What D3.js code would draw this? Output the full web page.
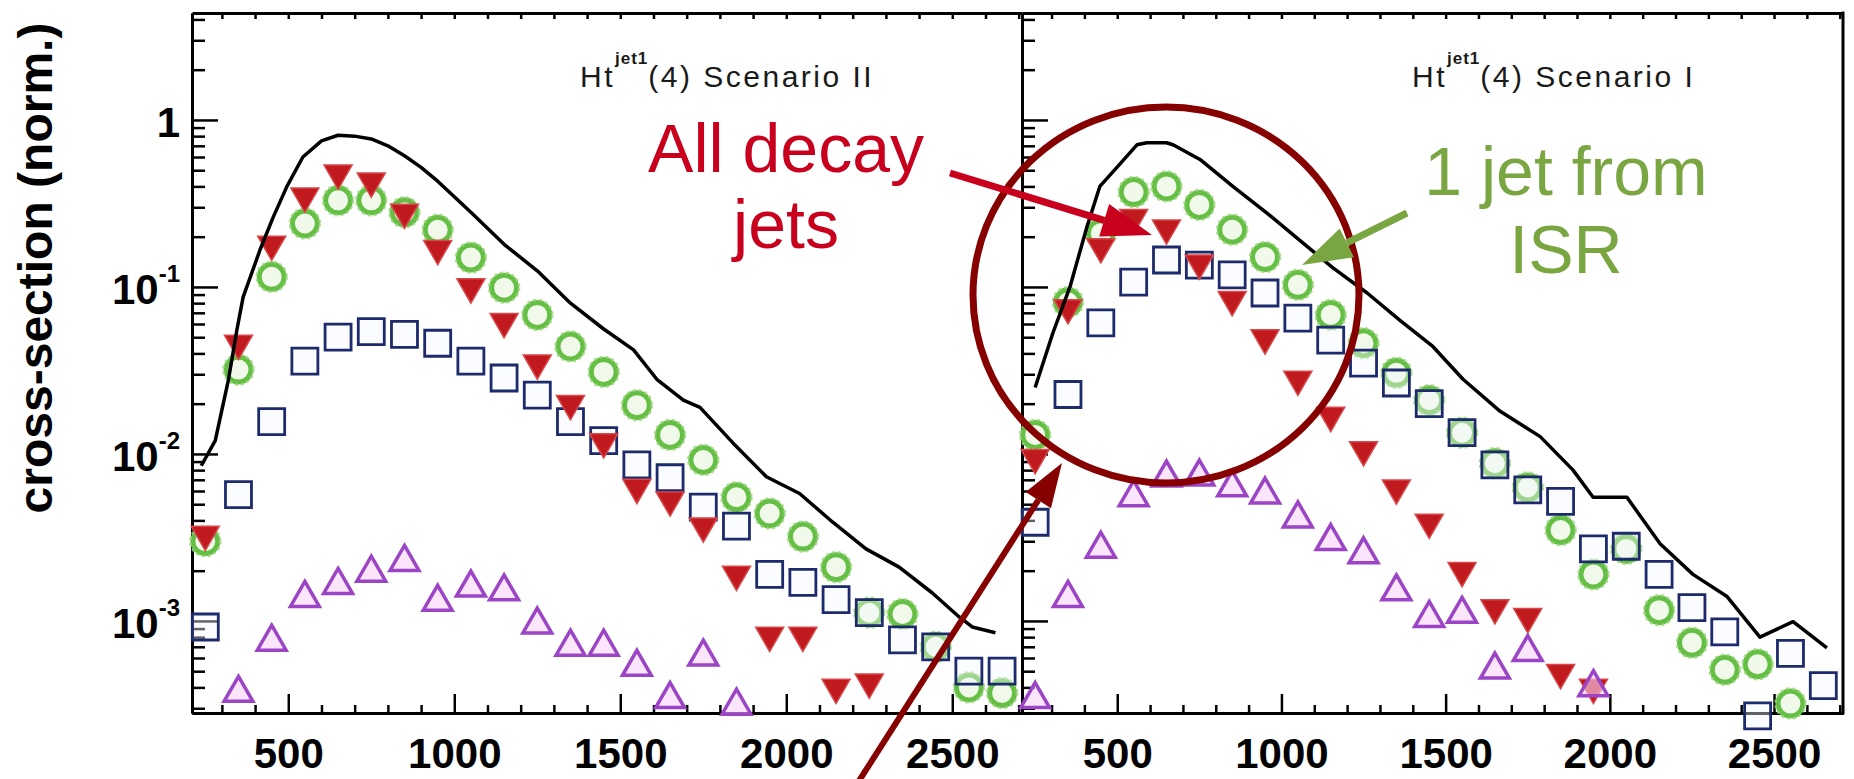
<!DOCTYPE html>
<html>
<head>
<meta charset="utf-8">
<script src="https://cdn.jsdelivr.net/npm/d3@7"></script>
<style>
body { margin: 0; background: #fff; }
svg { display: block; }
.axis path { stroke: #000; stroke-width: 3; }
.axis line { stroke: #000; stroke-width: 2.5; }
.axis text, .lbl { font-family: "Liberation Sans", Arial, Helvetica, sans-serif; font-weight: bold; font-size: 42px; fill: #000; }
.note { font-family: "Liberation Sans", Arial, Helvetica, sans-serif; font-size: 68px; }
.title { font-family: "Liberation Sans", Arial, Helvetica, sans-serif; font-size: 30px; letter-spacing: 2.5px; fill: #1a1a1a; }
</style>
</head>
<body>
<script>
// bin centres (Ht, GeV)
var bins = [250, 350, 450, 550, 650, 750, 850, 950, 1050, 1150, 1250, 1350, 1450,
            1550, 1650, 1750, 1850, 1950, 2050, 2150, 2250, 2350, 2450, 2550, 2650];

// Scenario II (left panel)
var decayII = [0.0033, 0.046, 0.18, 0.35, 0.48, 0.43, 0.28, 0.17, 0.10, 0.062, 0.035, 0.020, 0.0118,
               0.0063, 0.0053, 0.0037, 0.0019, 0.00082, 0.00082, 0.00040, 0.00043, null, null, null, null];
var isr1II = [0.0030, 0.032, 0.115, 0.24, 0.33, 0.33, 0.28, 0.22, 0.15, 0.099, 0.068, 0.044, 0.031,
              0.0196, 0.013, 0.0092, 0.0055, 0.0044, 0.0032, 0.0021, 0.00112, 0.0011, 0.0007, 0.0004, 0.00037];
var isr2II = [0.00092, 0.0057, 0.0156, 0.036, 0.050, 0.054, 0.052, 0.046, 0.036, 0.0285, 0.0225, 0.0156, 0.012,
              0.0086, 0.0072, 0.0048, 0.0037, 0.0019, 0.0017, 0.00134, 0.00112, 0.00077, 0.0007, 0.0005, 0.0005];
var isr3II = [null, 0.00037, 0.00075, 0.00137, 0.00164, 0.00194, 0.00225, 0.0013, 0.00158, 0.0015, 0.00095, 0.0007, 0.0007,
              0.00053, 0.00034, 0.00061, 0.00031, null, null, null, null, null, null, null, null];
var totalXII = [238, 280, 320, 345, 364, 415, 454, 496, 544, 600, 650, 700, 750, 800, 850, 900, 950, 1050,
                1150, 1250, 1350, 1450, 1540, 1610, 1690, 1740, 1840, 1940, 2040, 2140, 2240, 2340, 2440, 2520, 2560, 2630];
var totalII = [0.0085, 0.012, 0.028, 0.055, 0.087, 0.167, 0.26, 0.40, 0.60, 0.75, 0.81, 0.80, 0.77, 0.70, 0.61, 0.52, 0.43, 0.28,
               0.18, 0.125, 0.08, 0.056, 0.042, 0.028, 0.021, 0.019, 0.0116, 0.0073, 0.0058, 0.0039, 0.0027, 0.0021, 0.00147, 0.00106, 0.00092, 0.00085];

// Scenario I (right panel)
var decayI = [0.0095, 0.075, 0.174, 0.26, 0.225, 0.139, 0.084, 0.0495, 0.028, 0.017, 0.0106, 0.00625, 0.0039,
              0.0020, 0.0012, 0.00106, 0.00049, 0.00040, null, null, null, null, null, null, null];
var isr1I = [0.013, 0.081, 0.21, 0.37, 0.40, 0.31, 0.22, 0.151, 0.103, 0.068, 0.046, 0.0306, 0.021,
             0.0134, 0.0088, 0.0063, 0.0035, 0.0019, 0.0027, 0.00116, 0.00074, 0.00051, 0.00055, 0.00032, null];
var isr2I = [0.0039, 0.0227, 0.061, 0.107, 0.145, 0.135, 0.118, 0.092, 0.065, 0.048, 0.035, 0.0266, 0.020,
             0.0134, 0.0086, 0.0061, 0.0052, 0.0027, 0.0028, 0.0019, 0.0012, 0.00086, 0.00027, 0.00064, 0.00041];
var isr3I = [0.00034, 0.00137, 0.0027, 0.0055, 0.0072, 0.0073, 0.0063, 0.0057, 0.0041, 0.0030, 0.0025, 0.0015, 0.00104,
             0.0011, 0.00051, 0.00065, null, 0.00040, null, null, null, null, null, null, null];
var totalXI = [250, 304, 356, 408, 447, 499, 560, 590, 650, 670, 752, 852, 956, 1056, 1157, 1261, 1361, 1461,
               1553, 1666, 1788, 1888, 1949, 2052, 2153, 2253, 2357, 2457, 2558, 2661];
var totalI = [0.025, 0.053, 0.10, 0.23, 0.40, 0.52, 0.71, 0.73, 0.73, 0.71, 0.58, 0.40, 0.277, 0.19, 0.13, 0.092, 0.063, 0.044,
              0.028, 0.018, 0.0127, 0.0080, 0.0055, 0.0055, 0.0029, 0.0019, 0.0014, 0.0008, 0.00099, 0.00069];

var xTicks = [500, 1000, 1500, 2000, 2500];
var yTicks = [1, 0.1, 0.01, 0.001];

var width = 1854,
    height = 779,
    plotTop = 13,
    plotBottom = 713;

var red = "#c8001e", green = "#7aa642", darkRed = "#870000";

var svg = d3.select("body").append("svg")
    .attr("width", width)
    .attr("height", height);

var y = d3.scaleLog()
    .domain([2.81e-4, 4.37])
    .range([plotBottom, plotTop]);

// minor tick positions
var xMinor = d3.range(300, 2701, 100).filter(function(d) { return d % 500 !== 0; });
var xAll = d3.range(300, 2701, 100);
var yMinor = [];
[-4, -3, -2, -1, 0].forEach(function(e) {
    for (var k = 2; k <= 9; k++) {
        var v = k * Math.pow(10, e);
        if (v > y.domain()[0] && v < y.domain()[1]) yMinor.push(v);
    }
});

var panels = [
    {x0: 192, x1: 1022, decay: decayII, isr1: isr1II, isr2: isr2II, isr3: isr3II,
     totX: totalXII, tot: totalII, title: "Scenario II", titleX: 580},
    {x0: 1022, x1: 1843, decay: decayI, isr1: isr1I, isr2: isr2I, isr3: isr3I,
     totX: totalXI, tot: totalI, title: "Scenario I", titleX: 1412}
];

function points(arr) {
    return bins.map(function(b, i) { return {x: b, v: arr[i]}; })
        .filter(function(d) { return d.v != null; });
}

panels.forEach(function(p) {
    var x = d3.scaleLinear().domain([210, 2710]).range([p.x0, p.x1]);
    var g = svg.append("g");

    // axes: ticks point inwards
    g.append("g").attr("class", "axis").attr("transform", "translate(0," + plotBottom + ")")
        .call(d3.axisBottom(x).tickValues(xMinor).tickSize(-8).tickSizeOuter(0).tickFormat(""));
    g.append("g").attr("class", "axis").attr("transform", "translate(0," + plotBottom + ")")
        .call(d3.axisBottom(x).tickValues(xTicks).tickSize(-19).tickSizeOuter(0).tickPadding(25).tickFormat(d3.format("d")));
    g.append("g").attr("class", "axis").attr("transform", "translate(0," + plotTop + ")")
        .call(d3.axisTop(x).tickValues(xAll).tickSize(-6).tickSizeOuter(0).tickFormat(""));
    g.append("g").attr("class", "axis").attr("transform", "translate(" + p.x0 + ",0)")
        .call(d3.axisLeft(y).tickValues(yMinor).tickSize(-13).tickSizeOuter(0).tickFormat(""));
    g.append("g").attr("class", "axis").attr("transform", "translate(" + p.x0 + ",0)")
        .call(d3.axisLeft(y).tickValues(yTicks).tickSize(-26).tickSizeOuter(0).tickFormat(""));

    // 1 jet from ISR
    var c = g.append("g").selectAll("g")
        .data(points(p.isr1))
        .enter().append("g")
        .attr("transform", function(d) { return "translate(" + x(d.x) + "," + y(d.v) + ")"; });
    c.append("circle").attr("r", 12.5)
        .attr("fill", "#f0f9ea").attr("stroke", "#66bf45").attr("stroke-width", 5);
    c.append("circle").attr("r", 15)
        .attr("fill", "none").attr("stroke", "#98d67a").attr("stroke-width", 2.5)
        .attr("stroke-dasharray", "3 3").attr("opacity", 0.8);

    // 2 jets from ISR
    g.append("g").selectAll("path")
        .data(points(p.isr2))
        .enter().append("path")
        .attr("d", d3.symbol().type(d3.symbolSquare).size(26 * 26))
        .attr("transform", function(d) { return "translate(" + x(d.x) + "," + y(d.v) + ")"; })
        .attr("fill", "rgba(246,248,255,0.4)")
        .attr("stroke", "#1d2a6b")
        .attr("stroke-width", 2.8);

    // all decay jets
    g.append("g").selectAll("path")
        .data(points(p.decay))
        .enter().append("path")
        .attr("d", d3.symbol().type(d3.symbolTriangle).size(340))
        .attr("transform", function(d) { return "translate(" + x(d.x) + "," + y(d.v) + ") rotate(180)"; })
        .attr("fill", "#c01a1e")
        .attr("stroke", "#d8474a")
        .attr("stroke-width", 1.5);

    // 3 jets from ISR
    g.append("g").selectAll("path")
        .data(points(p.isr3))
        .enter().append("path")
        .attr("d", d3.symbol().type(d3.symbolTriangle).size(360))
        .attr("transform", function(d) { return "translate(" + x(d.x) + "," + y(d.v) + ")"; })
        .attr("fill", "rgba(246,212,248,0.6)")
        .attr("stroke", "#9c44c6")
        .attr("stroke-width", 3.5);

    // total
    var line = d3.line()
        .x(function(d) { return x(d[0]); })
        .y(function(d) { return y(d[1]); });
    g.append("path")
        .datum(d3.zip(p.totX, p.tot))
        .attr("d", line)
        .attr("fill", "none")
        .attr("stroke", "#000")
        .attr("stroke-width", 3.5)
        .attr("stroke-linejoin", "round");

    // panel title
    var t = g.append("text").attr("class", "title").attr("x", p.titleX).attr("y", 87);
    t.append("tspan").text("Ht");
    t.append("tspan").attr("dy", -23).style("font-size", "17px").style("font-weight", "bold")
        .style("letter-spacing", "1px").text("jet1");
    t.append("tspan").attr("dy", 23).text("(4) " + p.title);
});

// right frame edge
svg.append("line")
    .attr("x1", 1843).attr("x2", 1843).attr("y1", plotTop - 1.5).attr("y2", plotBottom + 1.5)
    .attr("stroke", "#000").attr("stroke-width", 3);

// y tick labels
svg.append("g").selectAll("text")
    .data(yTicks)
    .enter().append("text")
    .attr("class", "lbl")
    .attr("x", 180)
    .attr("y", function(d) { return y(d) + 17; })
    .attr("text-anchor", "end")
    .each(function(d) {
        var e = Math.round(Math.log10(d));
        var t = d3.select(this);
        if (e === 0) { t.text("1"); return; }
        t.append("tspan").text("10");
        t.append("tspan").attr("dy", -22).style("font-size", "24px").text(e);
    });

svg.append("text")
    .attr("class", "lbl")
    .attr("transform", "translate(52,268) rotate(-90)")
    .attr("text-anchor", "middle")
    .style("font-size", "48px")
    .text("cross-section (norm.)");

// annotations
function arrow(x1, y1, x2, y2, color, w, headLen, headW) {
    var a = Math.atan2(y2 - y1, x2 - x1);
    var bx = x2 - headLen * Math.cos(a), by = y2 - headLen * Math.sin(a);
    svg.append("line")
        .attr("x1", x1).attr("y1", y1).attr("x2", bx).attr("y2", by)
        .attr("stroke", color).attr("stroke-width", w);
    svg.append("polygon")
        .attr("points", [[x2, y2],
            [bx + headW / 2 * Math.sin(a), by - headW / 2 * Math.cos(a)],
            [bx - headW / 2 * Math.sin(a), by + headW / 2 * Math.cos(a)]].join(" "))
        .attr("fill", color);
}

svg.append("ellipse")
    .attr("cx", 1166).attr("cy", 295).attr("rx", 193).attr("ry", 188)
    .attr("fill", "none").attr("stroke", darkRed).attr("stroke-width", 7);

arrow(950, 173, 1152, 235, red, 7, 50, 34);
arrow(1407, 213, 1302, 265, green, 7, 50, 32);
arrow(850, 795, 1062, 463, darkRed, 6, 44, 30);

svg.append("text").attr("class", "note").attr("x", 786).attr("y", 172)
    .attr("text-anchor", "middle").attr("fill", red).text("All decay");
svg.append("text").attr("class", "note").attr("x", 786).attr("y", 248)
    .attr("text-anchor", "middle").attr("fill", red).text("jets");
svg.append("text").attr("class", "note").attr("x", 1566).attr("y", 195)
    .attr("text-anchor", "middle").attr("fill", green).text("1 jet from");
svg.append("text").attr("class", "note").attr("x", 1566).attr("y", 273)
    .attr("text-anchor", "middle").attr("fill", green).text("ISR");
</script>
</body>
</html>
